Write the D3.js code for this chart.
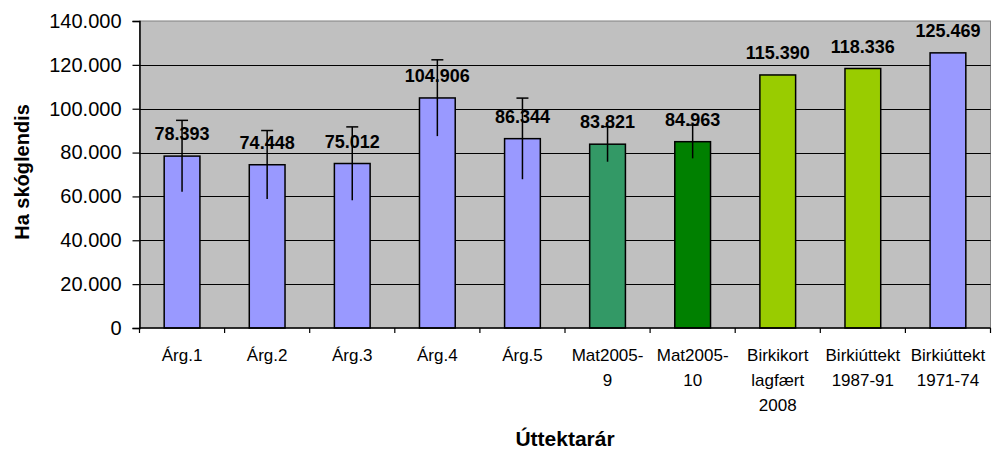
<!DOCTYPE html>
<html>
<head>
<meta charset="utf-8">
<script src="https://cdn.jsdelivr.net/npm/d3@7"></script>
<style>
  body { margin: 0; background: #fff; }
  text { font-family: "Liberation Sans", Arial, sans-serif; }
</style>
</head>
<body>
<div id="chart"></div>
<script>
// data (hectares)
const categories = ["Árg.1", "Árg.2", "Árg.3", "Árg.4", "Árg.5",
  "Mat2005-9", "Mat2005-10", "Birkikort lagfært 2008", "Birkiúttekt 1987-91", "Birkiúttekt 1971-74"];
const tickLines = [["Árg.1"], ["Árg.2"], ["Árg.3"], ["Árg.4"], ["Árg.5"],
  ["Mat2005-", "9"], ["Mat2005-", "10"], ["Birkikort", "lagfært", "2008"],
  ["Birkiúttekt", "1987-91"], ["Birkiúttekt", "1971-74"]];
const values = [78393, 74448, 75012, 104906, 86344, 83821, 84963, 115390, 118336, 125469];
const errors = [16300, 15600, 16700, 17400, 18500, 8000, 7600, null, null, null];
const colors = ["#9999FF", "#9999FF", "#9999FF", "#9999FF", "#9999FF",
  "#339966", "#008000", "#99CC00", "#99CC00", "#9999FF"];
const yTicks = [0, 20000, 40000, 60000, 80000, 100000, 120000, 140000];

const W = 992, H = 453;
const margin = {top: 21, right: 1.5, bottom: 125, left: 139.5};
const width = W - margin.left - margin.right,
      height = H - margin.top - margin.bottom;

const loc = d3.formatLocale({decimal: ",", thousands: ".", grouping: [3], currency: ["", ""]});
const fmt = loc.format(",d");

const svg = d3.select("#chart")
  .append("svg")
    .attr("width", W)
    .attr("height", H)
  .append("g")
    .attr("transform", `translate(${margin.left},${margin.top})`);

const x = d3.scaleBand()
  .domain(categories)
  .range([0, width])
  .paddingInner(0.58)
  .paddingOuter(0.29);

const y = d3.scaleLinear()
  .domain([0, 140000])
  .range([height, 0]);

// plot background
svg.append("rect")
  .attr("width", width)
  .attr("height", height)
  .attr("fill", "#C0C0C0")
  .attr("stroke", "#808080")
  .attr("stroke-width", 1);

// gridlines
svg.selectAll(".grid")
  .data(yTicks.slice(1, -1))
  .enter()
  .append("line")
    .attr("x1", 0)
    .attr("x2", width)
    .attr("y1", d => Math.round(y(d)) + 0.5)
    .attr("y2", d => Math.round(y(d)) + 0.5)
    .attr("stroke", "#000")
    .attr("stroke-width", 1);

// bars
svg.selectAll(".bar")
  .data(values)
  .enter()
  .append("rect")
    .attr("x", (d, i) => x(categories[i]))
    .attr("y", d => y(d))
    .attr("width", x.bandwidth())
    .attr("height", d => height - y(d))
    .attr("fill", (d, i) => colors[i])
    .attr("stroke", "#000")
    .attr("stroke-width", 1.5);

// data labels
svg.selectAll(".lbl")
  .data(values)
  .enter()
  .append("text")
    .attr("x", (d, i) => x(categories[i]) + x.bandwidth() / 2)
    .attr("y", d => y(d) - 16)
    .attr("text-anchor", "middle")
    .style("font-size", "18px")
    .style("font-weight", "bold")
    .text(d => fmt(d));

// error bars (cap only on top)
const errIdx = d3.range(values.length).filter(i => errors[i] != null);
const eg = svg.append("g").attr("stroke", "#000").attr("stroke-width", 1.5);
errIdx.forEach(i => {
  const cx = x(categories[i]) + x.bandwidth() / 2;
  eg.append("line")
    .attr("x1", cx).attr("x2", cx)
    .attr("y1", y(values[i] + errors[i]))
    .attr("y2", y(values[i] - errors[i]));
  eg.append("line")
    .attr("x1", cx - 6).attr("x2", cx + 6)
    .attr("y1", y(values[i] + errors[i]))
    .attr("y2", y(values[i] + errors[i]));
});

// y axis
const yAxis = svg.append("g")
  .call(d3.axisLeft(y).tickValues(yTicks).tickFormat(d => d === 0 ? "0" : fmt(d)).tickSize(7).tickPadding(11));
yAxis.select(".domain").attr("stroke", "#000").attr("stroke-width", 1.5);
yAxis.selectAll(".tick line").attr("stroke-width", 1.2);
yAxis.selectAll("text")
  .style("font-size", "20px")
  .attr("fill", "#000")
  .attr("font-family", null);

// x axis: ticks at category boundaries
svg.append("line")
  .attr("x1", 0).attr("x2", width)
  .attr("y1", height).attr("y2", height)
  .attr("stroke", "#000").attr("stroke-width", 1.5);
const step = x.step();
svg.selectAll(".xt")
  .data(d3.range(categories.length + 1))
  .enter()
  .append("line")
    .attr("x1", d => d * step).attr("x2", d => d * step)
    .attr("y1", height).attr("y2", height + 5)
    .attr("stroke", "#000").attr("stroke-width", 1.2);

const xl = svg.selectAll(".xl")
  .data(tickLines)
  .enter()
  .append("text")
    .attr("x", (d, i) => x(categories[i]) + x.bandwidth() / 2)
    .attr("y", height + 33)
    .attr("text-anchor", "middle")
    .style("font-size", "17px");
xl.selectAll("tspan")
  .data(d => d)
  .enter()
  .append("tspan")
    .attr("x", function() { return this.parentNode.getAttribute("x"); })
    .attr("dy", (d, j) => j === 0 ? 0 : 25)
    .text(d => d);

// axis titles
svg.append("text")
  .attr("x", width / 2)
  .attr("y", height + 118)
  .attr("text-anchor", "middle")
  .style("font-size", "21px")
  .style("font-weight", "bold")
  .text("Úttektarár");

svg.append("text")
  .attr("transform", "rotate(-90)")
  .attr("x", -(172 - margin.top))
  .attr("y", 29 - margin.left)
  .attr("text-anchor", "middle")
  .style("font-size", "20px")
  .style("font-weight", "bold")
  .text("Ha skóglendis");
</script>
</body>
</html>
